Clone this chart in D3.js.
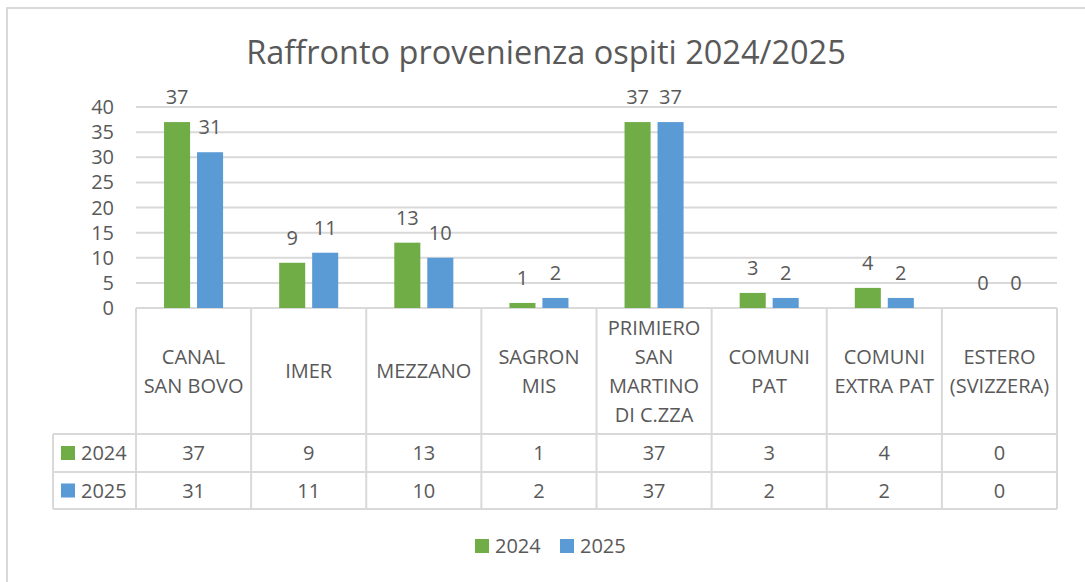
<!DOCTYPE html>
<html>
<head>
<meta charset="utf-8">
<script src="https://cdn.jsdelivr.net/npm/d3@7"></script>
<style>
  body { margin: 0; background: #fff; }
  text { font-family: "Open Sans", sans-serif; fill: #595959; }
</style>
</head>
<body>
<svg id="chart"></svg>
<script>
// chart data
const categories = [
  'CANAL\nSAN BOVO', 'IMER', 'MEZZANO', 'SAGRON\nMIS',
  'PRIMIERO\nSAN\nMARTINO\nDI C.ZZA', 'COMUNI\nPAT', 'COMUNI\nEXTRA PAT', 'ESTERO\n(SVIZZERA)'
];
const seriesNames = ['2024', '2025'];
const values2024 = [37, 9, 13, 1, 37, 3, 4, 0];
const values2025 = [31, 11, 10, 2, 37, 2, 2, 0];
const yTicks = [0, 5, 10, 15, 20, 25, 30, 35, 40];
const colours = ['#70AD47', '#5B9BD5'];
const titleText = 'Raffronto provenienza ospiti 2024/2025';

const W = 1085, H = 582;
const gridCol = '#D9D9D9';

const svg = d3.select('#chart').attr('width', W).attr('height', H);

// outer chart border (right/bottom fall outside the picture)
svg.append('rect')
  .attr('x', 7).attr('y', 8)
  .attr('width', W + 20).attr('height', H + 20)
  .attr('fill', '#fff')
  .attr('stroke', gridCol).attr('stroke-width', 2);

// title
svg.append('text')
  .attr('x', 546).attr('y', 64)
  .attr('text-anchor', 'middle')
  .style('font-size', '32.5px')
  .text(titleText);

// layout
const plotLeft = 136, plotRight = 1057;
const yTop = 107, yBottom = 308;
const row1 = 434, row2 = 472, row3 = 509;
const tableLeft = 53;

const series = seriesNames.map((name, i) => ({
  name, colour: colours[i], values: i === 0 ? values2024 : values2025
}));

const x0 = d3.scaleBand()
  .domain(d3.range(categories.length))
  .range([plotLeft, plotRight])
  .paddingInner(0).paddingOuter(0);

const x1 = d3.scaleBand()
  .domain(seriesNames)
  .range([0, x0.bandwidth()])
  .paddingInner(0.21)
  .paddingOuter(0.85);

const y = d3.scaleLinear().domain([0, 40]).range([yBottom, yTop]);

// gridlines
svg.append('g').selectAll('line')
  .data(yTicks)
  .enter().append('line')
  .attr('x1', plotLeft).attr('x2', plotRight)
  .attr('y1', d => y(d)).attr('y2', d => y(d))
  .attr('stroke', gridCol).attr('stroke-width', 2);

// y axis labels
svg.append('g').selectAll('text')
  .data(yTicks)
  .enter().append('text')
  .attr('x', 114)
  .attr('y', d => y(d) + 7)
  .attr('text-anchor', 'end')
  .style('font-size', '20px')
  .text(d => d);

// bars + labels
const groups = svg.append('g').selectAll('g')
  .data(categories.map((c, i) => i))
  .enter().append('g')
  .attr('transform', i => `translate(${x0(i)},0)`);

groups.selectAll('rect')
  .data(i => series.map(s => ({ name: s.name, colour: s.colour, v: s.values[i] })))
  .enter().append('rect')
  .attr('x', d => x1(d.name))
  .attr('width', x1.bandwidth())
  .attr('y', d => y(d.v))
  .attr('height', d => y(0) - y(d.v))
  .attr('fill', d => d.colour);

groups.selectAll('text')
  .data(i => series.map(s => ({ name: s.name, v: s.values[i] })))
  .enter().append('text')
  .attr('x', d => x1(d.name) + x1.bandwidth() / 2)
  .attr('y', d => y(d.v) - 18)
  .attr('text-anchor', 'middle')
  .style('font-size', '20px')
  .text(d => d.v);

// data table
const table = svg.append('g');
const hLine = (x1_, x2_, yy) => table.append('line')
  .attr('x1', x1_).attr('x2', x2_).attr('y1', yy).attr('y2', yy)
  .attr('stroke', gridCol).attr('stroke-width', 2);
const vLine = (xx, y1_, y2_) => table.append('line')
  .attr('x1', xx).attr('x2', xx).attr('y1', y1_).attr('y2', y2_)
  .attr('stroke', gridCol).attr('stroke-width', 2);

[row1, row2, row3].forEach(r => hLine(tableLeft, plotRight, r));
vLine(tableLeft, row1, row3);
d3.range(categories.length + 1).forEach(i => {
  const xx = i < categories.length ? x0(i) : plotRight;
  vLine(xx, yBottom, row3);
});

// header labels
const lineH = 29;
const headerMid = (yBottom + row1) / 2;
categories.forEach((c, i) => {
  const lines = c.split('\n');
  const t = table.append('text')
    .attr('text-anchor', 'middle')
    .style('font-size', '20px');
  lines.forEach((ln, k) => {
    t.append('tspan')
      .attr('x', x0(i) + x0.bandwidth() / 2)
      .attr('y', headerMid + (k - (lines.length - 1) / 2) * lineH + 7)
      .text(ln);
  });
});

// value rows
series.forEach((s, si) => {
  const top = si === 0 ? row1 : row2;
  const bot = si === 0 ? row2 : row3;
  const mid = (top + bot) / 2;
  table.append('rect')
    .attr('x', 61).attr('y', mid - 7)
    .attr('width', 14).attr('height', 14)
    .attr('fill', s.colour);
  table.append('text')
    .attr('x', 81).attr('y', mid + 7)
    .style('font-size', '20px')
    .text(s.name);
  s.values.forEach((v, i) => {
    table.append('text')
      .attr('x', x0(i) + x0.bandwidth() / 2)
      .attr('y', mid + 7)
      .attr('text-anchor', 'middle')
      .style('font-size', '20px')
      .text(v);
  });
});

// legend
const legend = svg.append('g');
const legX = [475, 560];
series.forEach((s, i) => {
  legend.append('rect')
    .attr('x', legX[i]).attr('y', 539)
    .attr('width', 14).attr('height', 14)
    .attr('fill', s.colour);
  legend.append('text')
    .attr('x', legX[i] + 20).attr('y', 553)
    .style('font-size', '20px')
    .text(s.name);
});
</script>
</body>
</html>
